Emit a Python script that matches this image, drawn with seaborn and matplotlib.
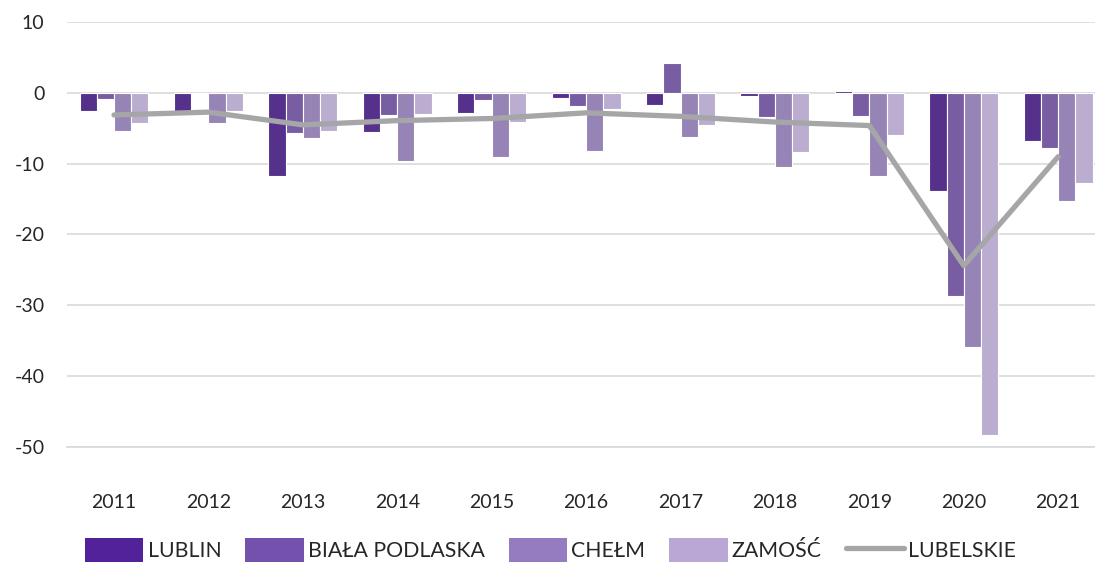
import matplotlib
matplotlib.use("Agg")
import matplotlib.pyplot as plt
import seaborn as sns
import pandas as pd
from matplotlib.patches import Patch
from matplotlib.lines import Line2D

years = ["2011", "2012", "2013", "2014", "2015", "2016", "2017", "2018", "2019", "2020", "2021"]
lublin = [-2.6, -2.5, -11.8, -5.5, -2.8, -0.75, -1.75, -0.45, 0.3, -13.8, -6.8]
biala_podlaska = [-0.85, -0.1, -5.6, -3.1, -1.0, -1.9, 4.2, -3.4, -3.2, -28.7, -7.8]
chelm = [-5.35, -4.2, -6.3, -9.6, -9.0, -8.25, -6.25, -10.5, -11.8, -35.9, -15.2]
zamosc = [-4.2, -2.56, -5.35, -3.0, -4.1, -2.2, -4.5, -8.4, -5.9, -48.3, -12.7]
lubelskie = [-3.1, -2.7, -4.5, -3.9, -3.6, -2.8, -3.3, -4.1, -4.6, -24.4, -9.0]

series = ["LUBLIN", "BIAŁA PODLASKA", "CHEŁM", "ZAMOŚĆ"]
colors = ["#52229a", "#7551ae", "#957bc0", "#baa7d6"]
line_color = "#a6a6a8"

df = pd.DataFrame({
    "year": years * 4,
    "value": lublin + biala_podlaska + chelm + zamosc,
    "area": [s for s in series for _ in years],
})

sns.set_style("white")
plt.rcParams["font.family"] = ["Lato", "DejaVu Sans"]
plt.rcParams["axes.unicode_minus"] = False

fig = plt.figure(figsize=(10.95, 5.62), dpi=100)
ax = fig.add_axes([0.061, 0.2052, 0.939, 0.7551])

sns.barplot(data=df, x="year", y="value", hue="area", hue_order=series,
            palette=colors, order=years, width=0.73, gap=0, errorbar=None,
            edgecolor="white", linewidth=0.8, ax=ax, zorder=2)
# overall voivodeship line on top of the bars
ax.plot(range(len(years)), lubelskie, color=line_color, lw=3.8,
        solid_capstyle="round", solid_joinstyle="round", zorder=3)

ax.set_xlim(-0.5, 10.39)
ax.set_ylim(-50, 10)
ax.set_yticks(range(-50, 11, 10))
ax.yaxis.grid(True, color="#d9d9d9", lw=1.2, zorder=0)
ax.set_axisbelow(True)
for s in ["top", "right", "left"]:
    ax.spines[s].set_visible(False)
ax.spines["bottom"].set_color("#d9d9d9")
ax.spines["bottom"].set_linewidth(1.2)
ax.tick_params(axis="x", length=0, pad=34, labelsize=14)
ax.tick_params(axis="y", length=0, pad=16, labelsize=14)
ax.set_xlabel("")
ax.set_ylabel("")
if ax.get_legend() is not None:
    ax.get_legend().remove()

handles = [Patch(facecolor=c, edgecolor="none") for c in colors]
handles.append(Line2D([0], [0], color=line_color, lw=3.8, solid_capstyle="round"))
fig.legend(handles, series + ["LUBELSKIE"], loc="center", bbox_to_anchor=(0.503, 0.021),
           ncol=5, frameon=False, fontsize=15.3, handlelength=2.74, handleheight=1.4,
           handletextpad=0.2, columnspacing=1.13, borderaxespad=0)

fig.savefig("out.png", dpi=100)
